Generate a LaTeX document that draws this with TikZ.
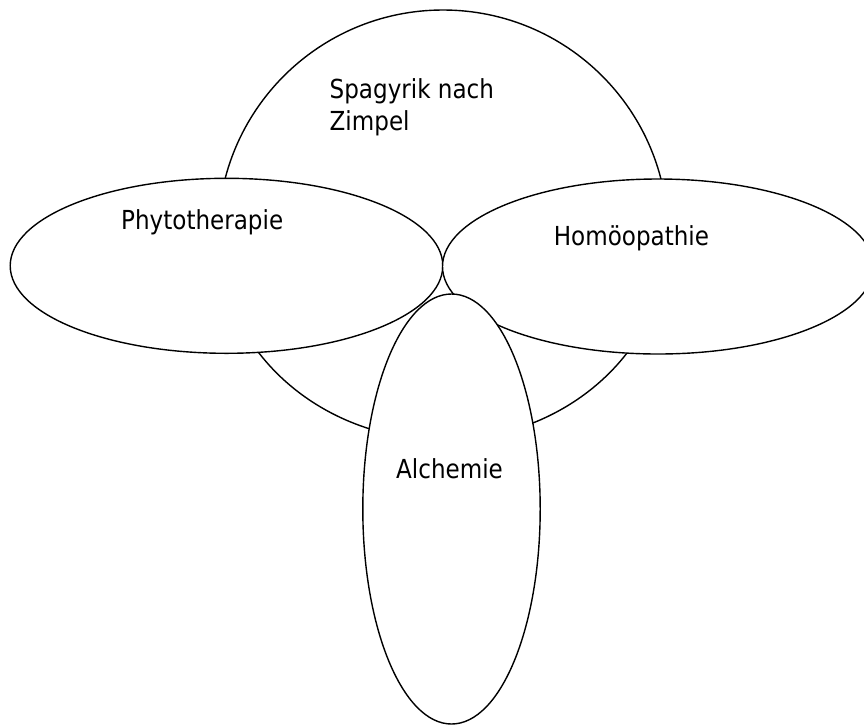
\documentclass[tikz,border=0pt]{standalone}
\usepackage{fontspec}
\setmainfont{DejaVu Sans}[FakeStretch=0.88]
\begin{document}
\begin{tikzpicture}[x=1pt,y=1pt,
  shapeline/.style={draw=black,fill=white,line width=1.4pt},
  lbl/.style={inner sep=0pt,anchor=base west,font=\fontsize{26.2pt}{31.7pt}\selectfont}]
\clip (0,0) rectangle (864,-724);
\fill[white] (0,0) rectangle (864,-724);
% Spagyrik shape
\path[shapeline] (668,-235) arc[start angle=0,end angle=180,x radius=225,y radius=225]
  arc[start angle=180,end angle=360,x radius=225,y radius=205] -- cycle;
% Phytotherapie
\path[shapeline] (226.5,-265.8) ellipse[x radius=216.3,y radius=87.5];
% Homoeopathie
\path[shapeline] (658,-266.5) ellipse[x radius=215.5,y radius=87.5];
% Alchemie
\path[shapeline] (451.5,-509) ellipse[x radius=88.7,y radius=215];
\node[lbl,align=left] (spag) at (329.5,-130) {Spagyrik nach\\Zimpel};
\node[lbl] (phyto) at (121,-229.3) {Phytotherapie};
\node[lbl] (homo) at (553.7,-245) {Homöopathie};
\node[lbl] (alch) at (396,-478) {Alchemie};
\end{tikzpicture}
\end{document}
